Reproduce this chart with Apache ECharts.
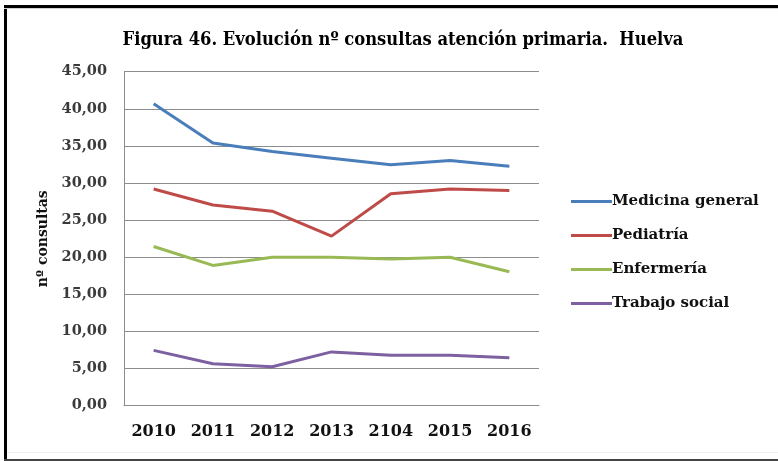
<!DOCTYPE html>
<html>
<head>
<meta charset="utf-8">
<script src="https://cdn.jsdelivr.net/npm/echarts@6/dist/echarts.min.js"></script>
<style>
  html, body { margin: 0; padding: 0; background: #fff; }
  #chart { width: 778px; height: 461px; }
</style>
</head>
<body>
<div id="chart"></div>
<script>
// Years on the horizontal axis (labels kept as published)
const years = ['2010', '2011', '2012', '2013', '2104', '2015', '2016'];

// Consultations per inhabitant, by service
const medicinaGeneral = [40.68, 35.40, 34.25, 33.35, 32.45, 33.05, 32.25];
const pediatria       = [29.20, 27.05, 26.20, 22.85, 28.55, 29.20, 29.00];
const enfermeria      = [21.45, 18.90, 20.00, 20.00, 19.75, 20.00, 18.05];
const trabajoSocial   = [7.45, 5.65, 5.25, 7.25, 6.80, 6.80, 6.45];

const seriesNames = ['Medicina general', 'Pediatría', 'Enfermería', 'Trabajo social'];
const seriesValues = [medicinaGeneral, pediatria, enfermeria, trabajoSocial];
const seriesColors = ['#4A7EBB', '#BE4B48', '#98B954', '#7D60A0'];

const serifBold = '"DejaVu Serif", serif';

const chart = echarts.init(document.getElementById('chart'), null, { renderer: 'canvas' });

chart.setOption({
  backgroundColor: '#ffffff',
  animation: false,
  title: {
    text: 'Figura 46. Evolución nº consultas atención primaria.  Huelva',
    left: 398,
    textAlign: 'center',
    top: 26,
    textStyle: {
      fontFamily: '"DejaVu Serif Condensed", serif',
      fontWeight: 'bold',
      fontSize: 18.2,
      color: '#000'
    }
  },
  legend: {
    orient: 'vertical',
    left: 566,
    top: 189,
    itemWidth: 41,
    itemHeight: 3,
    itemGap: 19,
    icon: 'rect',
    data: seriesNames,
    textStyle: {
      fontFamily: serifBold,
      fontWeight: 'bold',
      fontSize: 15,
      color: '#111',
      padding: [0, 0, 0, -5]
    }
  },
  grid: {
    left: 124,
    right: 239,
    top: 71.7,
    bottom: 55.3,
    containLabel: false
  },
  xAxis: {
    type: 'category',
    data: years,
    boundaryGap: true,
    axisLine: { lineStyle: { color: '#8c8c8c', width: 1 } },
    axisTick: { show: false },
    axisLabel: {
      margin: 18,
      fontFamily: serifBold,
      fontWeight: 'bold',
      fontSize: 16,
      color: '#111'
    }
  },
  yAxis: {
    type: 'value',
    min: 0,
    max: 45,
    interval: 5,
    name: 'nº consultas',
    nameLocation: 'middle',
    nameGap: 74,
    nameRotate: 90,
    nameTextStyle: {
      fontFamily: serifBold,
      fontWeight: 'bold',
      fontSize: 14,
      color: '#111'
    },
    axisLine: { show: true, lineStyle: { color: '#8c8c8c', width: 1 } },
    axisTick: { show: false },
    splitLine: { lineStyle: { color: '#8c8c8c', width: 1 } },
    axisLabel: {
      margin: 17,
      fontFamily: serifBold,
      fontWeight: 'bold',
      fontSize: 14.5,
      color: '#3a3a3a',
      formatter: v => v.toFixed(2).replace('.', ',')
    }
  },
  graphic: [
    // frame around the figure: heavy left and top rules, grey bottom rule
    { type: 'line', shape: { x1: 5.5, y1: 5, x2: 5.5, y2: 461 }, style: { stroke: '#000', lineWidth: 3 } },
    { type: 'line', shape: { x1: 4, y1: 6.5, x2: 778, y2: 6.5 }, style: { stroke: '#000', lineWidth: 3 } },
    { type: 'line', shape: { x1: 4, y1: 8.5, x2: 778, y2: 8.5 }, style: { stroke: '#cfcfcf', lineWidth: 1 } },
    { type: 'line', shape: { x1: 7, y1: 452.5, x2: 778, y2: 452.5 }, style: { stroke: '#efefef', lineWidth: 1 } },
    { type: 'line', shape: { x1: 4, y1: 460, x2: 778, y2: 460 }, style: { stroke: '#444', lineWidth: 2 } }
  ],
  series: seriesNames.map((name, i) => ({
    name: name,
    type: 'line',
    data: seriesValues[i],
    symbol: 'none',
    smooth: false,
    lineStyle: { color: seriesColors[i], width: 3 },
    itemStyle: { color: seriesColors[i] }
  }))
});
</script>
</body>
</html>
